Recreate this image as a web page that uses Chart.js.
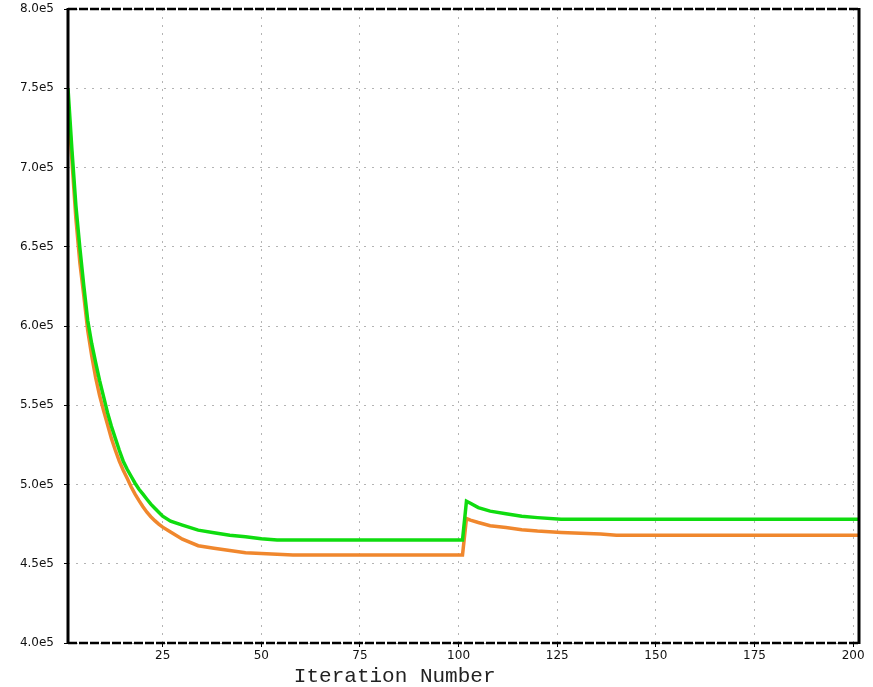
<!DOCTYPE html>
<html>
<head>
<meta charset="utf-8">
<script src="https://cdn.jsdelivr.net/npm/chart.js@4.4.1/dist/chart.umd.min.js"></script>
<style>
  html, body { margin: 0; padding: 0; background: #ffffff; }
  #wrap { width: 873px; height: 687px; }
</style>
</head>
<body>
<div id="wrap"><canvas id="c" width="873" height="687"></canvas></div>
<script>
// ---- data ----
const xTitle = "Iteration Number";
const xTickValues = [25, 50, 75, 100, 125, 150, 175, 200];
const yTickValues = [400000, 450000, 500000, 550000, 600000, 650000, 700000, 750000, 800000];

const greenIter = [1,2,3,4,5,6,7,8,9,10,11,12,13,14,15,16,17,18,19,20,21,22,23,24,25,27,30,34,38,42,46,50,54,101,102,103,105,108,112,116,120,126,201.5];
const greenVals = [750000,711000,676000,649500,625500,603500,589000,577000,565700,555600,545500,536700,529100,521600,514700,509600,505200,500800,497000,493900,490700,487600,485000,482500,480000,476900,474400,471200,469600,468000,467100,465800,465000,465000,489500,488200,485400,483200,481600,480000,479100,478000,478000];

const orangeIter = [1,2,3,4,5,6,7,8,9,10,11,12,13,14,15,16,17,18,19,20,21,22,23,24,25,27,30,34,38,42,46,50,58,101,102,103,105,108,112,116,120,126,136,140,201.5];
const orangeVals = [742000,704300,667700,640000,619200,597200,581400,567600,556200,546800,538000,529100,521600,514700,509000,503900,498600,493900,489800,486000,482500,479700,477200,475000,473100,470000,465500,461400,459800,458300,457000,456400,455500,455500,478500,477500,476000,474000,472800,471500,470600,469700,468700,468000,468000];

const toPoints = (xs, ys) => xs.map((x, i) => ({ x: x, y: ys[i] }));

// frame + x title plugin
const framePlugin = {
  id: 'frame',
  afterDatasetsDraw(chart) {
    const a = chart.chartArea;
    const ctx = chart.ctx;
    ctx.save();
    ctx.strokeStyle = '#000';
    ctx.lineWidth = 3;
    ctx.setLineDash([]);
    ctx.beginPath();
    ctx.moveTo(a.left, a.top - 1); ctx.lineTo(a.left, a.bottom + 1);
    ctx.moveTo(a.right, a.top - 1); ctx.lineTo(a.right, a.bottom + 1);
    ctx.stroke();
    ctx.lineWidth = 2.5;
    ctx.setLineDash([9, 2]);
    ctx.beginPath();
    ctx.moveTo(a.left, a.top); ctx.lineTo(a.right, a.top);
    ctx.moveTo(a.left, a.bottom); ctx.lineTo(a.right, a.bottom);
    ctx.stroke();
    ctx.restore();
  },
  afterDraw(chart) {
    const a = chart.chartArea;
    const ctx = chart.ctx;
    ctx.save();
    ctx.fillStyle = '#222';
    ctx.font = '21px "Liberation Mono", "DejaVu Sans Mono", monospace';
    ctx.textAlign = 'center';
    ctx.textBaseline = 'middle';
    ctx.fillText(xTitle, a.left + 0.413 * (a.right - a.left), a.bottom + 33);
    ctx.restore();
  }
};

const gridOpts = {
  color: '#b4b4b4',
  lineWidth: 1,
  drawTicks: true,
  tickLength: 4,
  tickColor: '#000',
  tickBorderDash: []
};

new Chart(document.getElementById('c'), {
  type: 'line',
  data: {
    datasets: [
      {
        label: 'green',
        data: toPoints(greenIter, greenVals),
        borderColor: '#0fdc0f',
        borderWidth: 3.5,
        pointRadius: 0,
        tension: 0,
        fill: false
      },
      {
        label: 'orange',
        data: toPoints(orangeIter, orangeVals),
        borderColor: '#f0872d',
        borderWidth: 3.5,
        pointRadius: 0,
        tension: 0,
        fill: false
      }
    ]
  },
  options: {
    responsive: false,
    animation: false,
    layout: { padding: { left: 0, right: 14, top: 9, bottom: 0 } },
    plugins: { legend: { display: false }, tooltip: { enabled: false } },
    scales: {
      x: {
        type: 'linear',
        min: 1,
        max: 201.5,
        afterBuildTicks: (axis) => { axis.ticks = xTickValues.map(v => ({ value: v })); },
        afterFit: (axis) => { axis.height = 44; },
        border: { display: false, dash: [2, 6] },
        grid: gridOpts,
        ticks: {
          color: '#111',
          font: { family: '"DejaVu Sans", sans-serif', size: 12 },
          padding: 2,
          maxRotation: 0
        },
        title: { display: false }
      },
      y: {
        type: 'linear',
        min: 400000,
        max: 800000,
        afterBuildTicks: (axis) => { axis.ticks = yTickValues.map(v => ({ value: v })); },
        afterFit: (axis) => { axis.width = 68; axis.paddingTop = 0; axis.paddingBottom = 0; },
        border: { display: false, dash: [2, 6] },
        grid: gridOpts,
        ticks: {
          color: '#111',
          font: { family: '"DejaVu Sans", sans-serif', size: 12 },
          padding: 10,
          callback: (v) => (v / 100000).toFixed(1) + 'e5'
        }
      }
    }
  },
  plugins: [framePlugin]
});
</script>
</body>
</html>
